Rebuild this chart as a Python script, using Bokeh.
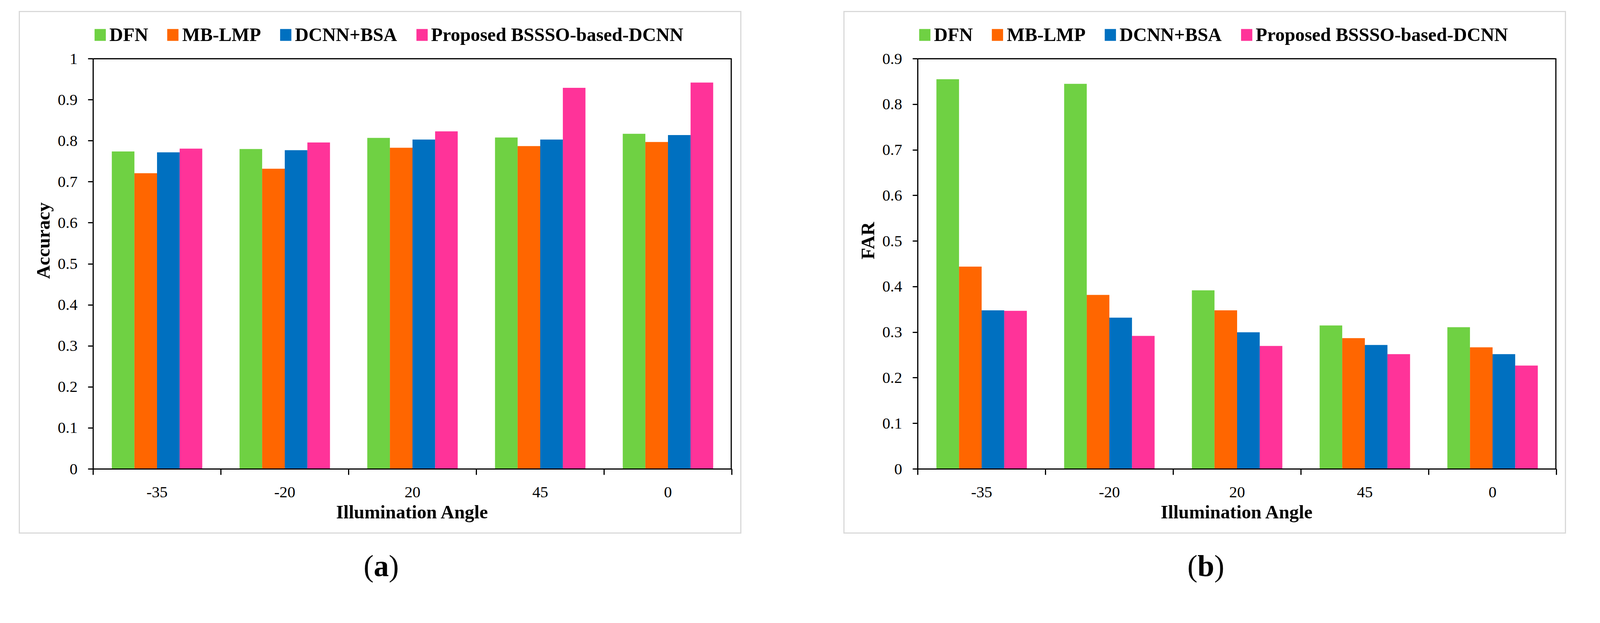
from bokeh.plotting import figure
from bokeh.models import (FixedTicker, CustomJSTickFormatter, Legend, LegendItem,
                          Div, Spacer)
from bokeh.layouts import row, column
from bokeh.embed import file_html
from bokeh.resources import INLINE

# ---------------- data ----------------
angles = ["-35", "-20", "20", "45", "0"]
series = ["DFN", "MB-LMP", "DCNN+BSA", "Proposed BSSSO-based-DCNN"]
colors = ["#6FD143", "#FF6600", "#0070C0", "#FF3399"]

acc_dfn = [0.774, 0.780, 0.807, 0.808, 0.817]
acc_mblmp = [0.721, 0.732, 0.783, 0.787, 0.797]
acc_dcnn = [0.772, 0.777, 0.803, 0.803, 0.814]
acc_prop = [0.781, 0.796, 0.823, 0.929, 0.942]

far_dfn = [0.855, 0.845, 0.392, 0.315, 0.311]
far_mblmp = [0.444, 0.382, 0.348, 0.287, 0.267]
far_dcnn = [0.348, 0.332, 0.300, 0.272, 0.252]
far_prop = [0.347, 0.292, 0.270, 0.252, 0.227]

acc_ticks = [0, 0.1, 0.2, 0.3, 0.4, 0.5, 0.6, 0.7, 0.8, 0.9, 1.0]
far_ticks = [0, 0.1, 0.2, 0.3, 0.4, 0.5, 0.6, 0.7, 0.8, 0.9]

# ---------------- layout constants (pixels) ----------------
S = 0.968                    # overall scale of the page geometry
FONT = "Liberation Serif"
BAR_W = 0.177
OUTER_W = round(1917 * S)    # grey panel frame, incl. 3px border
OUTER_H = round(1389 * S)
CANVAS_W, CANVAS_H = OUTER_W - 6, OUTER_H - 6
CANVAS_TOP = round(37 * S) + 3          # page y of the canvas top
B_LEFT = round(196 * S - 3)
B_RIGHT = round(32 * S - 3)
B_BOTTOM = round(178 * S - 3)
FRAME_H = CANVAS_H - B_BOTTOM          # frame reaches the canvas top
PLOT_H = FRAME_H - round(126 * S - 3)  # height of the black plot box
GAP = round(263 * S)
LEG_BOTTOM = round(128 * S) - CANVAS_TOP   # legend bottom, from canvas top


def px(v):
    return "%.1fpx" % (v * S)


def make_panel(values, ymax, yticks, ytitle):
    n = len(angles)
    y_end = ymax * FRAME_H / PLOT_H
    p = figure(width=CANVAS_W, height=CANVAS_H, x_range=(0, n),
               y_range=(0, y_end),
               output_backend="svg", toolbar_location=None,
               min_border_left=B_LEFT, min_border_right=B_RIGHT,
               min_border_top=0, min_border_bottom=B_BOTTOM,
               outline_line_color=None,
               background_fill_color="white", border_fill_color="white",
               styles={"border": "3px solid #d9d9d9"})
    p.xgrid.visible = False
    p.ygrid.visible = False

    items = []
    for k, (vals, name, col) in enumerate(zip(values, series, colors)):
        off = (k - 1.5) * BAR_W
        xs = [i + 0.5 + off for i in range(n)]
        r = p.vbar(x=xs, top=vals, width=BAR_W, bottom=0,
                   fill_color=col, line_color=None)
        items.append(LegendItem(label=name, renderers=[r]))

    # top and right edges of the black plot box
    p.segment(x0=[0], y0=[ymax], x1=[n], y1=[ymax],
              line_color="black", line_width=3)
    p.segment(x0=[n], y0=[0], x1=[n], y1=[ymax],
              line_color="black", line_width=6)

    xa = p.xaxis[0]
    xa.bounds = (0, n)
    xa.ticker = FixedTicker(ticks=[i + 0.5 for i in range(n)],
                            minor_ticks=list(range(n + 1)))
    xa.formatter = CustomJSTickFormatter(args=dict(labels=angles),
                                         code="return labels[Math.floor(tick)];")
    xa.major_tick_in = 0
    xa.major_tick_out = 0
    xa.minor_tick_in = 0
    xa.minor_tick_out = round(15 * S)
    xa.minor_tick_line_width = 3
    xa.minor_tick_line_color = "black"
    xa.axis_line_width = 3
    xa.axis_line_color = "black"
    xa.major_label_standoff = round(32 * S)
    xa.major_label_text_font = FONT
    xa.major_label_text_font_size = px(42)
    xa.major_label_text_color = "black"
    xa.axis_label = "Illumination Angle"
    xa.axis_label_text_font = FONT
    xa.axis_label_text_font_style = "bold"
    xa.axis_label_text_font_size = px(50)
    xa.axis_label_text_color = "black"
    xa.axis_label_standoff = round(8 * S)

    ya = p.yaxis[0]
    ya.ticker = FixedTicker(ticks=yticks)
    ya.bounds = (0, ymax)
    ya.formatter = CustomJSTickFormatter(
        code="return (Math.round(tick*10)/10).toString();")
    ya.major_tick_in = 0
    ya.major_tick_out = round(13 * S)
    ya.major_tick_line_width = 3
    ya.major_tick_line_color = "black"
    ya.minor_tick_line_color = None
    ya.axis_line_width = 3
    ya.axis_line_color = "black"
    ya.major_label_standoff = round(28 * S)
    ya.major_label_text_font = FONT
    ya.major_label_text_font_size = px(42)
    ya.major_label_text_color = "black"
    ya.axis_label = ytitle
    ya.axis_label_text_font = FONT
    ya.axis_label_text_font_style = "bold"
    ya.axis_label_text_font_size = px(50)
    ya.axis_label_text_color = "black"
    ya.axis_label_standoff = round(8 * S)

    legend = Legend(items=items, orientation="horizontal",
                    location=(0, FRAME_H - LEG_BOTTOM),
                    glyph_width=round(37 * S), glyph_height=round(39 * S),
                    label_standoff=round(6 * S), spacing=round(47 * S),
                    padding=0, margin=0,
                    border_line_alpha=0, background_fill_alpha=0,
                    label_text_font=FONT, label_text_font_style="bold",
                    label_text_font_size=px(50), label_text_color="black")
    p.add_layout(legend)
    return p


def make_caption(letter):
    return Div(text="(<b>%s</b>)" % letter, width=OUTER_W, height=round(89 * S),
               margin=(round(41 * S), 0, 0, 0),
               styles={"text-align": "center", "font-family": FONT,
                       "font-size": px(80), "line-height": "%dpx" % round(89 * S),
                       "color": "black"})


p_a = make_panel([acc_dfn, acc_mblmp, acc_dcnn, acc_prop], 1.0, acc_ticks,
                 "Accuracy")
p_b = make_panel([far_dfn, far_mblmp, far_dcnn, far_prop], 0.9, far_ticks,
                 "FAR")

col_a = column(p_a, make_caption("a"))
col_b = column(p_b, make_caption("b"))
layout = column(Spacer(height=round(37 * S) - 8),
                row(Spacer(width=round(58 * S) - 8), col_a, Spacer(width=GAP),
                    col_b))

open("out.html", "w").write(file_html(layout, INLINE))
